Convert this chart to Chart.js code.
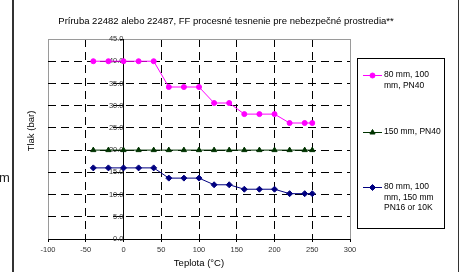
<!DOCTYPE html>
<html>
<head>
<meta charset="utf-8">
<script src="https://cdn.jsdelivr.net/npm/chart.js@4/dist/chart.umd.min.js"></script>
<style>
  body { margin: 0; background: #fff; }
  canvas { display: block; }
</style>
</head>
<body>
<canvas id="myChart" width="466" height="272"></canvas>
<script>
// Data
const chartTitle = 'Príruba 22482 alebo 22487, FF procesné tesnenie pre nebezpečné prostredia**';
const xTitle = 'Teplota (°C)';
const yTitle = 'Tlak (bar)';
const temps = [-40, -20, 0, 20, 40, 60, 80, 100, 120, 140, 160, 180, 200, 220, 240, 250];
const pn40Small = [40, 40, 40, 40, 40, 34.2, 34.2, 34.2, 30.6, 30.6, 28.1, 28.1, 28.1, 26.1, 26.1, 26.1];
const pn40Large = [20, 20, 20, 20, 20, 20, 20, 20, 20, 20, 20, 20, 20, 20, 20, 20];
const pn16 = [16, 16, 16, 16, 16, 13.7, 13.7, 13.7, 12.2, 12.2, 11.2, 11.2, 11.2, 10.2, 10.2, 10.2];
const seriesNames = [
    ['80 mm, 100', 'mm, PN40'],
    ['150 mm, PN40'],
    ['80 mm, 100', 'mm, 150 mm', 'PN16 or 10K']
];
const xTicks = [-100, -50, 0, 50, 100, 150, 200, 250, 300];
const yTicks = [0, 5, 10, 15, 20, 25, 30, 35, 40, 45];

const FONT = "'Liberation Sans', Arial, sans-serif";

// Build {x, y} points for a series
function toPoints(values) {
    return temps.map((t, i) => ({ x: t, y: values[i] }));
}

// Extra drawing: frame, title, y title, legend box
const decorPlugin = {
    id: 'decor',
    beforeDraw(chart) {
        const { ctx, chartArea } = chart;
        ctx.save();
        // gray plot frame
        ctx.strokeStyle = '#9a9a9a';
        ctx.lineWidth = 1;
        ctx.strokeRect(chartArea.left + 0.5, chartArea.top + 0.5, chartArea.right - chartArea.left, chartArea.bottom - chartArea.top);
        ctx.restore();
    },
    afterDraw(chart) {
        const { ctx } = chart;
        ctx.save();

        // outer frame pieces
        ctx.fillStyle = '#333';
        ctx.fillRect(12, 0, 2, 272);
        ctx.fillRect(458, 0, 1, 272);

        // cut-off text at the left edge
        ctx.fillStyle = '#222';
        ctx.font = `13px ${FONT}`;
        ctx.textBaseline = 'alphabetic';
        ctx.textAlign = 'left';
        ctx.fillText('m', -1, 182);

        // chart title
        ctx.fillStyle = '#000';
        ctx.font = `9.5px ${FONT}`;
        ctx.textAlign = 'center';
        ctx.textBaseline = 'middle';
        ctx.fillText(chartTitle, 226, 21);

        // y axis title
        ctx.save();
        ctx.translate(31, 131);
        ctx.rotate(-Math.PI / 2);
        ctx.fillText(yTitle, 0, 0);
        ctx.restore();

        // legend box
        ctx.strokeStyle = '#000';
        ctx.lineWidth = 1;
        ctx.strokeRect(357.5, 58.5, 87, 170);
        const itemY = [75, 132, 187];
        ctx.font = `8.5px ${FONT}`;
        ctx.textAlign = 'left';
        chart.data.datasets.forEach((ds, i) => {
            const y = itemY[i];
            ctx.strokeStyle = ds.borderColor;
            ctx.lineWidth = 1;
            ctx.beginPath();
            ctx.moveTo(363, y + 0.5);
            ctx.lineTo(382, y + 0.5);
            ctx.stroke();
            ctx.fillStyle = ds.pointBackgroundColor;
            ctx.strokeStyle = ds.pointBorderColor;
            Chart.helpers.drawPoint(ctx, {
                pointStyle: ds.pointStyle,
                radius: ds.pointRadius,
                rotation: 0,
                borderWidth: 1
            }, 372.5, y + 0.5);
            ctx.fillStyle = '#000';
            seriesNames[i].forEach((line, j) => {
                ctx.fillText(line, 384, y + j * 10.5);
            });
        });
        ctx.restore();
    }
};

const ctx = document.getElementById('myChart');

new Chart(ctx, {
    type: 'line',
    data: {
        datasets: [{
            label: seriesNames[0].join(' '),
            data: toPoints(pn40Small),
            borderColor: '#ff00ff',
            backgroundColor: '#ff00ff',
            pointBackgroundColor: '#ff00ff',
            pointBorderColor: '#ff00ff',
            pointStyle: 'circle',
            pointRadius: 2.5,
            borderWidth: 1
        }, {
            label: seriesNames[1].join(' '),
            data: toPoints(pn40Large),
            borderColor: '#003300',
            backgroundColor: '#003300',
            pointBackgroundColor: '#003300',
            pointBorderColor: '#003300',
            pointStyle: 'triangle',
            pointRadius: 3,
            borderWidth: 1
        }, {
            label: seriesNames[2].join(' '),
            data: toPoints(pn16),
            borderColor: '#000080',
            backgroundColor: '#000080',
            pointBackgroundColor: '#000080',
            pointBorderColor: '#000080',
            pointStyle: 'rectRot',
            pointRadius: 3,
            borderWidth: 1
        }]
    },
    options: {
        responsive: false,
        animation: false,
        devicePixelRatio: 1,
        layout: {
            padding: { left: 48, right: 116, top: 39, bottom: 0 }
        },
        plugins: {
            legend: { display: false },
            title: { display: false },
            tooltip: { enabled: false }
        },
        scales: {
            x: {
                type: 'linear',
                position: 'bottom',
                min: -100,
                max: 300,
                afterFit: (scale) => { scale.height = 33; },
                afterBuildTicks: (scale) => { scale.ticks = xTicks.map(v => ({ value: v })); },
                ticks: {
                    font: { family: FONT, size: 7.5 },
                    color: '#333',
                    padding: 3,
                    maxRotation: 0
                },
                grid: {
                    color: (c) => {
                        if (!c.tick) return '#000';
                        if (c.tick.value === -100 || c.tick.value === 300) return '#9a9a9a';
                        return '#000';
                    },
                    tickColor: '#000',
                    tickLength: 3,
                    lineWidth: 1
                },
                border: {
                    color: '#000',
                    width: 1,
                    dash: (c) => {
                        if (!c.tick) return [];
                        const v = c.tick.value;
                        return (v === -100 || v === 300 || v === 0) ? [] : [8, 5];
                    }
                },
                title: {
                    display: true,
                    text: xTitle,
                    color: '#000',
                    font: { family: FONT, size: 9.5 },
                    padding: { top: 0, bottom: 3 }
                }
            },
            y: {
                type: 'linear',
                position: { x: 0 },
                min: 0,
                max: 45,
                afterBuildTicks: (scale) => { scale.ticks = yTicks.map(v => ({ value: v })); },
                ticks: {
                    font: { family: FONT, size: 7.5 },
                    color: '#333',
                    padding: 2,
                    callback: (v) => Number(v).toFixed(1)
                },
                grid: {
                    color: (c) => {
                        if (!c.tick) return '#000';
                        if (c.tick.value === 45) return '#9a9a9a';
                        if (c.tick.value === 0) return 'rgba(0,0,0,0)';
                        return '#000';
                    },
                    tickColor: '#000',
                    tickLength: 3,
                    lineWidth: 1
                },
                border: {
                    color: '#000',
                    width: 1,
                    dash: (c) => {
                        if (!c.tick) return [];
                        return c.tick.value === 45 ? [] : [8, 5];
                    }
                }
            }
        }
    },
    plugins: [decorPlugin]
});
</script>
</body>
</html>
